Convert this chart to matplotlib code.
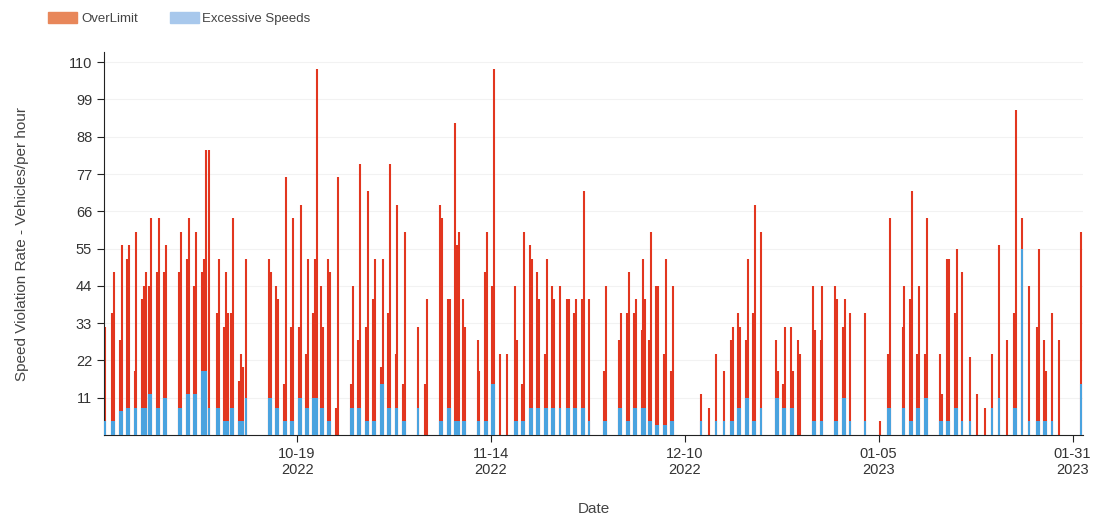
import numpy as np
import pandas as pd
import matplotlib
matplotlib.use('Agg')
import matplotlib.pyplot as plt
import matplotlib.dates as mdates
from matplotlib.patches import Patch

plt.rcParams['font.family'] = ['Liberation Sans', 'DejaVu Sans']

# one entry per day with readings; spikes inside a day listed left to right
days = ['2022-09-23', '2022-09-24', '2022-09-25', '2022-09-26', '2022-09-27', '2022-09-28',
        '2022-09-29', '2022-09-30', '2022-10-01', '2022-10-03', '2022-10-04', '2022-10-05',
        '2022-10-06', '2022-10-07', '2022-10-08', '2022-10-09', '2022-10-10', '2022-10-11',
        '2022-10-12', '2022-10-15', '2022-10-16', '2022-10-17', '2022-10-18', '2022-10-19',
        '2022-10-20', '2022-10-21', '2022-10-22', '2022-10-23', '2022-10-24', '2022-10-26',
        '2022-10-27', '2022-10-28', '2022-10-29', '2022-10-30', '2022-10-31', '2022-11-01',
        '2022-11-02', '2022-11-04', '2022-11-05', '2022-11-07', '2022-11-08', '2022-11-09',
        '2022-11-10', '2022-11-12', '2022-11-13', '2022-11-14', '2022-11-15', '2022-11-16',
        '2022-11-17', '2022-11-18', '2022-11-19', '2022-11-20', '2022-11-21', '2022-11-22',
        '2022-11-23', '2022-11-24', '2022-11-25', '2022-11-26', '2022-11-27', '2022-11-29',
        '2022-12-01', '2022-12-02', '2022-12-03', '2022-12-04', '2022-12-05', '2022-12-06',
        '2022-12-07', '2022-12-08', '2022-12-12', '2022-12-13', '2022-12-14', '2022-12-15',
        '2022-12-16', '2022-12-17', '2022-12-18', '2022-12-19', '2022-12-20', '2022-12-22',
        '2022-12-23', '2022-12-24', '2022-12-25', '2022-12-27', '2022-12-28', '2022-12-30',
        '2022-12-31', '2023-01-01', '2023-01-03', '2023-01-05', '2023-01-06', '2023-01-08',
        '2023-01-09', '2023-01-10', '2023-01-11', '2023-01-13', '2023-01-14', '2023-01-15',
        '2023-01-16', '2023-01-17', '2023-01-18', '2023-01-19', '2023-01-20', '2023-01-21',
        '2023-01-22', '2023-01-23', '2023-01-24', '2023-01-25', '2023-01-26', '2023-01-27',
        '2023-01-28', '2023-01-29', '2023-02-01']

over_limit = [[32], [36, 48], [28, 56], [52, 56], [19, 60], [40, 44, 48],
              [44, 64], [48, 64], [48, 56], [48, 60], [52, 64], [44, 60],
              [48, 52, 84], [84], [36, 52], [32, 48, 36], [36, 64], [16, 24, 20],
              [52], [52, 48], [44, 40], [15, 76], [32, 64], [32, 68],
              [24, 52], [36, 52, 108], [44, 32], [52, 48], [8, 76], [15, 44],
              [28, 80], [32, 72], [40, 52], [20, 52], [36, 80], [24, 68],
              [15, 60], [32], [15, 40], [68, 64], [40, 40], [92, 56, 60],
              [40, 32], [28, 19], [48, 60], [44, 108], [24], [24],
              [44, 28], [15, 60], [56, 52], [48, 40], [24, 52], [44, 40],
              [44], [40, 40], [36, 40], [40, 72], [40], [19, 44],
              [28, 36], [36, 48], [36, 40], [31, 52, 40], [28, 60], [44, 44],
              [24, 52], [19, 44], [12], [8], [24], [19],
              [28, 32], [36, 32], [28, 52], [36, 68], [60], [28, 19],
              [15, 32], [32, 19], [28, 24], [44, 31], [28, 44], [44, 40],
              [32, 40], [36], [36], [4], [24, 64], [32, 44],
              [40, 72], [24, 44], [24, 64], [24, 12], [52, 52], [36, 55],
              [48], [23], [12], [8], [24], [56],
              [28], [36, 96], [64], [44], [32, 55], [28, 19],
              [36], [28], [60]]

excessive = [4, 4, 7, 8, 8, 8, 12, 8, 11, 8, 12, 12,
             19, 8, 8, 4, 8, 4, 11, 11, 8, 4, 4, 11,
             8, 11, 8, 4, 0, 8, 8, 4, 4, 15, 8, 8,
             4, 8, 0, 4, 8, 4, 4, 4, 4, 15, 0, 0,
             4, 4, 8, 8, 8, 8, 8, 8, 8, 8, 4, 4,
             8, 4, 8, 8, 4, 3, 3, 4, 4, 0, 4, 4,
             4, 8, 11, 4, 8, 11, 8, 8, 0, 4, 4, 4,
             11, 4, 4, 0, 8, 8, 4, 8, 11, 4, 4, 8,
             4, 4, 0, 0, 8, 11, 0, 8, 55, 4, 4, 4,
             4, 0, 15]

red = '#e2361f'
blue = '#4aa3df'

fig = plt.figure(figsize=(10.98, 5.17), dpi=100)
ax = fig.add_axes([0.0947, 0.1586, 0.8916, 0.7408])

dates = pd.to_datetime(days)
for d, spikes, ex in zip(dates, over_limit, excessive):
    base = mdates.date2num(d)
    xs = [base + 0.2 + 0.26 * i for i in range(len(spikes))]
    ax.vlines(xs, 0, spikes, colors=red, linewidth=1.5, zorder=2)
    if ex > 0:
        ax.vlines(xs, 0, [min(ex, s) for s in spikes], colors=blue, linewidth=1.5, zorder=3)

ax.set_ylim(0, 113)
ax.set_xlim(mdates.date2num(pd.Timestamp('2022-09-23')) + 0.1,
            mdates.date2num(pd.Timestamp('2023-02-01')) + 0.4)

ax.set_yticks(np.arange(11, 111, 11))
ax.tick_params(axis='y', length=5, labelsize=10.5, colors='#222222', labelcolor='#333333')
ax.yaxis.grid(True, color='#f2f2f2', linewidth=0.8, zorder=0)

xt = pd.to_datetime(['2022-10-19', '2022-11-14', '2022-12-10', '2023-01-05', '2023-01-31'])
ax.set_xticks(mdates.date2num(xt))
ax.set_xticklabels([t.strftime('%m-%d') + '\n' + t.strftime('%Y') for t in xt])
ax.tick_params(axis='x', length=5, labelsize=10.5, colors='#222222', labelcolor='#333333')

for s in ['top', 'right']:
    ax.spines[s].set_visible(False)
for s in ['left', 'bottom']:
    ax.spines[s].set_color('#222222')

ax.set_ylabel('Speed Violation Rate - Vehicles/per hour', fontsize=11, color='#444444', labelpad=29)
ax.set_xlabel('Date', fontsize=11, color='#444444', labelpad=18)

handles = [Patch(color='#e8875a'), Patch(color='#a8c8ec')]
fig.legend(handles, ['OverLimit', 'Excessive Speeds'], loc='upper left',
           bbox_to_anchor=(0.033, 1.0), ncol=2, frameon=False, fontsize=9.5,
           labelcolor='#444444', handlelength=2.2, handleheight=0.9,
           handletextpad=0.3, columnspacing=2.4)

fig.savefig('out.png', dpi=100)
